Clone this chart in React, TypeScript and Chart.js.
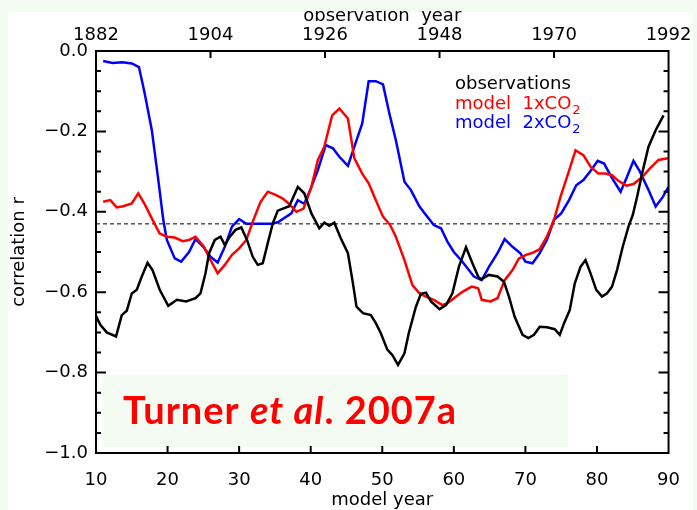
import React, { useEffect, useRef } from "react";
import { Chart, registerables } from "chart.js";

Chart.register(...registerables);

// observations (black)
const obsYears = [10.0, 10.6, 11.5, 12.8, 13.6, 14.3, 15.0, 15.7, 16.4, 17.2, 17.9, 18.9, 20.1, 21.3, 22.6, 23.9, 24.6, 25.3, 25.8, 26.6, 27.4, 28.0, 28.7, 29.5, 30.3, 31.1, 31.9, 32.6, 33.3, 34.0, 34.7, 35.4, 37.0, 38.2, 39.1, 40.1, 41.2, 41.9, 42.6, 43.3, 44.2, 45.2, 45.9, 46.4, 47.3, 48.4, 49.1, 49.8, 50.7, 51.4, 52.2, 53.1, 53.7, 54.7, 55.4, 56.1, 56.8, 58.0, 58.9, 59.8, 60.7, 61.7, 62.6, 63.4, 63.8, 64.9, 66.1, 67.0, 67.7, 68.5, 69.6, 70.4, 71.2, 72.0, 73.0, 74.1, 74.8, 75.4, 76.2, 76.9, 77.7, 78.4, 79.1, 79.9, 80.7, 81.4, 82.1, 82.8, 83.6, 84.4, 85.0, 85.6, 86.3, 87.2, 88.2, 89.3];
const obsValues = [-0.659, -0.681, -0.700, -0.710, -0.657, -0.646, -0.603, -0.594, -0.561, -0.527, -0.545, -0.594, -0.634, -0.619, -0.623, -0.615, -0.603, -0.553, -0.503, -0.470, -0.462, -0.483, -0.462, -0.445, -0.439, -0.470, -0.512, -0.532, -0.528, -0.478, -0.429, -0.397, -0.386, -0.338, -0.354, -0.404, -0.441, -0.427, -0.435, -0.427, -0.466, -0.503, -0.578, -0.636, -0.652, -0.657, -0.677, -0.702, -0.743, -0.756, -0.781, -0.752, -0.702, -0.636, -0.604, -0.601, -0.623, -0.642, -0.632, -0.603, -0.537, -0.488, -0.528, -0.561, -0.568, -0.557, -0.561, -0.574, -0.611, -0.661, -0.706, -0.714, -0.706, -0.686, -0.687, -0.692, -0.706, -0.677, -0.644, -0.578, -0.537, -0.520, -0.553, -0.594, -0.611, -0.603, -0.586, -0.545, -0.487, -0.437, -0.408, -0.363, -0.305, -0.238, -0.197, -0.160];

// model 1xCO2 (red)
const m1Years = [11.0, 12.0, 12.9, 13.8, 15.0, 15.9, 16.8, 17.9, 18.9, 19.9, 21.0, 22.1, 23.0, 23.9, 25.0, 26.0, 27.0, 28.0, 29.0, 30.0, 31.0, 32.0, 33.0, 34.0, 35.1, 36.1, 37.0, 38.0, 39.0, 40.1, 41.0, 41.9, 43.0, 44.0, 45.2, 46.1, 47.2, 48.1, 49.1, 50.1, 51.1, 51.9, 53.1, 54.2, 55.2, 56.1, 57.2, 58.4, 59.1, 60.0, 61.2, 62.5, 63.4, 63.9, 65.1, 66.1, 67.1, 68.2, 69.1, 70.1, 71.0, 72.0, 73.0, 74.0, 74.9, 76.0, 77.0, 78.1, 79.1, 80.2, 81.2, 82.1, 83.0, 84.1, 85.1, 86.3, 87.4, 88.6, 89.9];
const m1Values = [-0.375, -0.371, -0.389, -0.386, -0.379, -0.354, -0.381, -0.420, -0.454, -0.462, -0.464, -0.473, -0.470, -0.462, -0.485, -0.520, -0.553, -0.532, -0.507, -0.491, -0.470, -0.420, -0.375, -0.350, -0.358, -0.367, -0.381, -0.400, -0.392, -0.338, -0.271, -0.238, -0.160, -0.143, -0.168, -0.267, -0.305, -0.329, -0.371, -0.412, -0.433, -0.462, -0.520, -0.582, -0.603, -0.611, -0.619, -0.632, -0.628, -0.615, -0.599, -0.586, -0.590, -0.619, -0.623, -0.615, -0.570, -0.545, -0.516, -0.507, -0.502, -0.493, -0.462, -0.420, -0.363, -0.303, -0.247, -0.259, -0.288, -0.305, -0.305, -0.309, -0.323, -0.335, -0.331, -0.314, -0.292, -0.271, -0.267];

// model 2xCO2 (blue)
const m2Years = [11.0, 12.3, 13.7, 15.0, 16.0, 16.8, 17.8, 18.7, 19.4, 19.9, 21.0, 21.9, 23.0, 23.9, 25.0, 26.0, 27.0, 28.0, 29.0, 30.0, 31.0, 33.0, 34.5, 35.4, 37.3, 38.2, 39.1, 40.1, 41.0, 42.1, 43.1, 44.0, 45.2, 46.1, 47.2, 48.1, 49.1, 50.1, 51.0, 51.9, 53.1, 54.0, 55.2, 56.1, 57.2, 58.2, 59.1, 60.0, 61.0, 62.1, 62.8, 63.9, 64.9, 66.1, 67.1, 68.2, 69.3, 70.0, 71.0, 72.0, 73.0, 74.0, 75.0, 76.1, 77.1, 78.1, 79.2, 80.1, 81.0, 82.0, 83.3, 84.2, 85.1, 86.0, 87.2, 88.2, 89.2, 90.0];
const m2Values = [-0.025, -0.030, -0.028, -0.031, -0.040, -0.105, -0.197, -0.320, -0.420, -0.470, -0.516, -0.524, -0.500, -0.468, -0.487, -0.512, -0.526, -0.487, -0.437, -0.418, -0.430, -0.430, -0.430, -0.426, -0.404, -0.371, -0.380, -0.338, -0.296, -0.234, -0.242, -0.263, -0.286, -0.238, -0.180, -0.075, -0.075, -0.083, -0.156, -0.222, -0.325, -0.346, -0.387, -0.408, -0.433, -0.441, -0.474, -0.500, -0.520, -0.545, -0.561, -0.570, -0.537, -0.503, -0.468, -0.487, -0.503, -0.524, -0.528, -0.503, -0.470, -0.420, -0.404, -0.371, -0.334, -0.321, -0.296, -0.273, -0.280, -0.313, -0.350, -0.313, -0.273, -0.300, -0.346, -0.387, -0.363, -0.338];

const thresholdValue = -0.43;
const firstObsYear = 1882;
const lastObsYear = 1992;
const modelMin = 10;
const modelMax = 90;

const seriesNames = ["observations", "model  1xCO", "model  2xCO"];
const seriesColors = ["#000000", "#ff0000", "#0000ff"];
const citation = ["Turner ", "et al", ". 2007a"];

const PALE = "#f3fbf2";
const FONT = '"DejaVu Sans", sans-serif';
const CITE_FONT = 'Lato, "Open Sans", sans-serif';

function pts(xs: number[], ys: number[]) {
  return xs.map((x, i) => ({ x, y: ys[i] }));
}

const decorPlugin = {
  id: "decor",
  beforeDraw(chart: any) {
    const ctx = chart.ctx;
    ctx.save();
    ctx.fillStyle = PALE;
    ctx.fillRect(0, 0, chart.width, chart.height);
    ctx.fillStyle = "#ffffff";
    ctx.fillRect(8, 12, 685, chart.height - 12);
    ctx.restore();
  },
  beforeDatasetsDraw(chart: any) {
    const ctx = chart.ctx;
    const { left, right } = chart.chartArea;
    const y = chart.scales.y.getPixelForValue(thresholdValue);
    ctx.save();
    ctx.strokeStyle = "#000";
    ctx.lineWidth = 1;
    ctx.setLineDash([4, 3]);
    ctx.beginPath();
    ctx.moveTo(left, y);
    ctx.lineTo(right, y);
    ctx.stroke();
    ctx.restore();
  },
  afterDatasetsDraw(chart: any) {
    const ctx = chart.ctx;
    const { left, right, top, bottom } = chart.chartArea;
    const ys = chart.scales.y;
    const xs = chart.scales.x;
    const xt = chart.scales.x2;
    ctx.save();
    // citation box
    ctx.fillStyle = PALE;
    ctx.fillRect(103, 375, 465, 72);
    ctx.fillStyle = "#ff0000";
    ctx.textBaseline = "alphabetic";
    try { (ctx as any).letterSpacing = "1px"; } catch (e) {}
    let cx = 123;
    const cy = 424;
    ctx.font = "bold 38px " + CITE_FONT;
    ctx.fillText(citation[0], cx, cy);
    cx += ctx.measureText(citation[0]).width;
    ctx.font = "italic bold 38px " + CITE_FONT;
    ctx.fillText(citation[1], cx, cy);
    cx += ctx.measureText(citation[1]).width;
    ctx.font = "bold 38px " + CITE_FONT;
    ctx.fillText(citation[2], cx, cy);
    try { (ctx as any).letterSpacing = "0px"; } catch (e) {}

    // frame
    ctx.strokeStyle = "#000";
    ctx.lineWidth = 2;
    ctx.strokeRect(left, top, right - left, bottom - top);
    // y ticks (left and right)
    ctx.beginPath();
    for (let k = 1; k < 20; k++) {
      const v = -1 + k * 0.05;
      const py = ys.getPixelForValue(v);
      const len = k % 4 === 0 ? 10 : 5;
      ctx.moveTo(left, py);
      ctx.lineTo(left + len, py);
      ctx.moveTo(right, py);
      ctx.lineTo(right - len, py);
    }
    // bottom ticks
    for (let v = modelMin + 10; v < modelMax; v += 10) {
      const px = xs.getPixelForValue(v);
      ctx.moveTo(px, bottom);
      ctx.lineTo(px, bottom - 7);
    }
    // top ticks
    for (let v = modelMin + 16; v < modelMax; v += 16) {
      const px = xt.getPixelForValue(v);
      ctx.moveTo(px, top);
      ctx.lineTo(px, top + 7);
    }
    ctx.stroke();

    // legend
    const baselines = [89, 109, 128];
    seriesNames.forEach((name, i) => {
      ctx.fillStyle = seriesColors[i];
      ctx.font = "18px " + FONT;
      ctx.fillText(name, 455, baselines[i]);
      if (i > 0) {
        const w = ctx.measureText(name).width;
        ctx.font = "13px " + FONT;
        ctx.fillText("2", 455 + w + 1, baselines[i] + 5);
      }
    });
    ctx.restore();
  },
  afterDraw(chart: any) {
    const ctx = chart.ctx;
    ctx.save();
    ctx.fillStyle = PALE;
    ctx.fillRect(0, 0, chart.width, 11);
    ctx.restore();
  },
};

export default function App() {
  const ref = useRef<HTMLCanvasElement | null>(null);
  useEffect(() => {
    if (!ref.current) return;
    const tickFont = { family: FONT, size: 18 };
    const chart = new Chart(ref.current, {
      type: "line",
      data: {
        datasets: [
          { label: "observations", data: pts(obsYears, obsValues), borderColor: seriesColors[0], borderWidth: 2.5, pointRadius: 0, tension: 0, fill: false },
          { label: "model 1xCO2", data: pts(m1Years, m1Values), borderColor: seriesColors[1], borderWidth: 2.5, pointRadius: 0, tension: 0, fill: false },
          { label: "model 2xCO2", data: pts(m2Years, m2Values), borderColor: seriesColors[2], borderWidth: 2.5, pointRadius: 0, tension: 0, fill: false },
        ],
      },
      options: {
        responsive: false,
        animation: false,
        devicePixelRatio: 1,
        layout: { padding: { right: 26, left: 0, top: 0, bottom: 0 } },
        plugins: { legend: { display: false }, tooltip: { enabled: false } },
        scales: {
          x: {
            type: "linear",
            position: "bottom",
            min: modelMin,
            max: modelMax,
            border: { display: false },
            grid: { display: false, drawTicks: false },
            ticks: { stepSize: 10, autoSkip: false, maxRotation: 0, color: "#000", font: tickFont, padding: 17 },
            title: { display: true, text: "model year", color: "#000", font: tickFont, padding: { top: 0, bottom: -1 } },
            afterFit: (s: any) => { s.height = 57; },
          },
          x2: {
            type: "linear",
            position: "top",
            min: modelMin,
            max: modelMax,
            border: { display: false },
            grid: { display: false, drawTicks: false },
            ticks: {
              stepSize: 16,
              autoSkip: false,
              maxRotation: 0,
              color: "#000",
              font: tickFont,
              padding: 5,
              callback: (v: any) => String(Math.round(firstObsYear + ((Number(v) - modelMin) * (lastObsYear - firstObsYear)) / (modelMax - modelMin))),
            },
            title: { display: true, text: "observation  year", color: "#000", font: tickFont, padding: { top: 6, bottom: 0 } },
            afterFit: (s: any) => { s.height = 51; },
          },
          y: {
            type: "linear",
            min: -1,
            max: 0,
            border: { display: false },
            grid: { display: false, drawTicks: false },
            ticks: {
              stepSize: 0.2,
              autoSkip: false,
              color: "#000",
              font: tickFont,
              padding: 8,
              callback: (v: any) => Number(v).toFixed(1).replace("-", "\u2212"),
            },
            title: { display: true, text: "correlation r", color: "#000", font: tickFont, padding: { top: 9, bottom: 0 } },
            afterFit: (s: any) => { s.width = 96; },
          },
        },
      },
      plugins: [decorPlugin],
    });
    return () => chart.destroy();
  }, []);
  return (
    <div style={{ position: "fixed", left: 0, top: 0, width: 697, height: 510, background: PALE }}>
      <canvas ref={ref} width={697} height={510} style={{ display: "block", width: 697, height: 510 }} />
    </div>
  );
}
